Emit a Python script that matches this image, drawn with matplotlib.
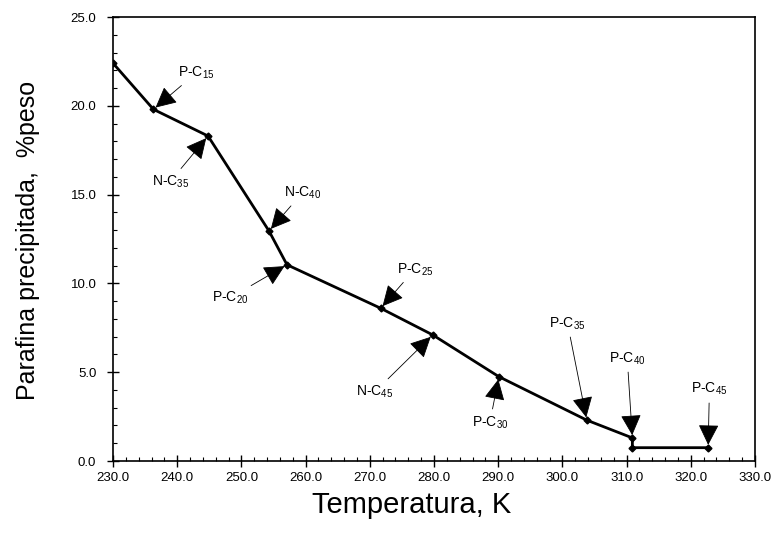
import matplotlib
matplotlib.use('Agg')
from matplotlib import pyplot as plt
from matplotlib.ticker import MultipleLocator, FormatStrFormatter

plt.rcParams['font.family'] = ['Liberation Sans', 'DejaVu Sans']
plt.rcParams['mathtext.fontset'] = 'custom'
plt.rcParams['mathtext.rm'] = 'Liberation Sans'
plt.rcParams['mathtext.default'] = 'regular'

# datos
temperatura = [230.0, 236.3, 244.8, 254.3, 257.1, 271.7, 279.8, 290.1, 303.8, 310.9, 310.9, 322.7]
parafina = [22.4, 19.8, 18.3, 12.95, 11.05, 8.6, 7.1, 4.75, 2.3, 1.3, 0.75, 0.75]

etiquetas = ['P-C$_{15}$', 'N-C$_{35}$', 'N-C$_{40}$', 'P-C$_{20}$', 'P-C$_{25}$',
             'N-C$_{45}$', 'P-C$_{30}$', 'P-C$_{35}$', 'P-C$_{40}$', 'P-C$_{45}$']
indice_punto = [1, 2, 3, 4, 5, 6, 7, 8, 9, 11]
# posicion del texto de cada etiqueta (coordenadas de datos)
texto_x = [243.0, 238.9, 259.5, 248.2, 277.0, 270.8, 288.7, 300.8, 310.1, 322.9]
texto_y = [21.86, 15.73, 15.1, 9.18, 10.79, 3.90, 2.16, 7.75, 5.78, 4.04]

fig = plt.figure(figsize=(7.71, 5.4), dpi=100)
ax = fig.add_axes([113 / 771, 1 - 461 / 540, 642 / 771, 444 / 540])

ax.plot(temperatura, parafina, color='black', linewidth=2.0, marker='D', markersize=3.5)

for et, i, tx, ty in zip(etiquetas, indice_punto, texto_x, texto_y):
    ax.annotate(et, xy=(temperatura[i], parafina[i]), xytext=(tx, ty),
                ha='center', va='center', fontsize=10,
                arrowprops=dict(arrowstyle='-|>,head_length=0.5,head_width=0.25',
                                mutation_scale=26, lw=0.6, color='black',
                                shrinkA=2, shrinkB=2))

ax.set_xlim(230, 330)
ax.set_ylim(0, 25)
ax.xaxis.set_major_locator(MultipleLocator(10))
ax.xaxis.set_minor_locator(MultipleLocator(2))
ax.yaxis.set_major_locator(MultipleLocator(5))
ax.yaxis.set_minor_locator(MultipleLocator(1))
ax.xaxis.set_major_formatter(FormatStrFormatter('%.1f'))
ax.yaxis.set_major_formatter(FormatStrFormatter('%.1f'))
ax.tick_params(which='major', direction='inout', length=8, width=1, labelsize=9.5, pad=4)
ax.tick_params(axis='y', which='major', pad=8)
ax.tick_params(which='minor', direction='in', length=3, width=0.8)
for s in ax.spines.values():
    s.set_linewidth(1.2)

fig.text(28 / 771, 1 - 240 / 540, 'Parafina precipitada,  %peso', rotation=90,
         ha='center', va='center', fontsize=18)
fig.text(412 / 771, 1 - 505 / 540, 'Temperatura, K', ha='center', va='center',
         fontsize=21)

fig.savefig('out.png', dpi=100)
